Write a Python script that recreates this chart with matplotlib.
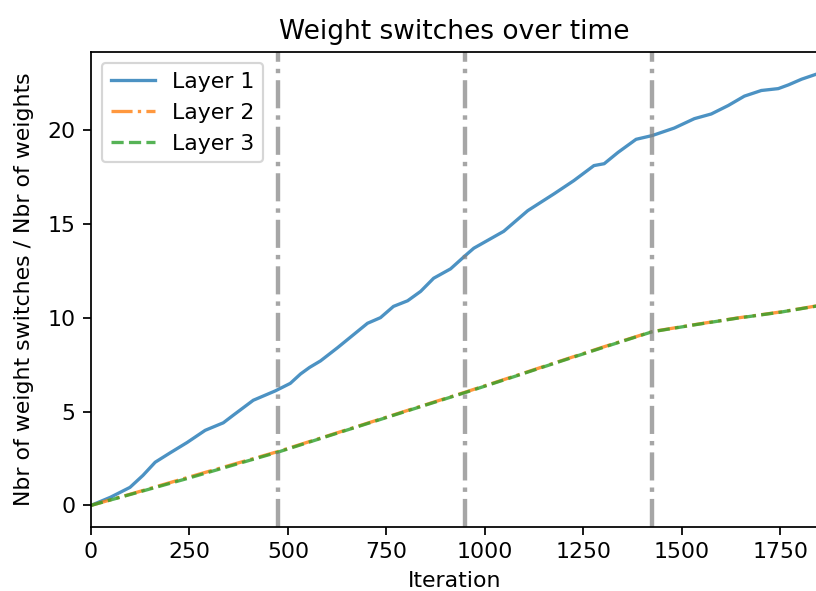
import numpy as np
import matplotlib
matplotlib.use("Agg")
import matplotlib.pyplot as plt

# Cumulative weight switches (normalised by number of weights) per layer
iters_l1 = [0, 49, 99, 132, 163, 201, 244, 290, 336, 361, 412, 468, 506, 532,
            555, 583, 626, 702, 735, 768, 804, 837, 870, 913, 950, 972, 1048,
            1109, 1176, 1226, 1277, 1303, 1338, 1384, 1425, 1481, 1532, 1575,
            1618, 1659, 1702, 1745, 1771, 1804, 1846]
layer1 = [0.0, 0.43, 0.96, 1.6, 2.3, 2.8, 3.35, 4.0, 4.4, 4.8, 5.6, 6.1, 6.5,
          7.0, 7.35, 7.7, 8.4, 9.7, 10.0, 10.6, 10.9, 11.4, 12.1, 12.6, 13.3,
          13.7, 14.6, 15.7, 16.6, 17.3, 18.1, 18.2, 18.8, 19.5, 19.7, 20.1,
          20.6, 20.85, 21.3, 21.8, 22.1, 22.2, 22.4, 22.7, 23.0]

iters_l23 = [0, 120, 244, 360, 475, 600, 720, 840, 950, 1070, 1190, 1310,
             1425, 1530, 1640, 1750, 1846]
layer2 = [0.0, 0.72, 1.48, 2.18, 2.87, 3.70, 4.50, 5.30, 6.03, 6.85, 7.68,
          8.50, 9.26, 9.62, 9.98, 10.30, 10.64]
layer3 = [0.0, 0.70, 1.43, 2.14, 2.84, 3.68, 4.48, 5.28, 6.01, 6.83, 7.66,
          8.48, 9.25, 9.61, 9.97, 10.29, 10.63]

# End of each training epoch
epoch_ends = [475, 950, 1425]

dpi = 158
fig = plt.figure(figsize=(816 / dpi, 591 / dpi), dpi=dpi)
ax = fig.add_axes([0.1115, 0.1083, 0.891, 0.8037])

ax.plot(iters_l1, layer1, '-', color='tab:blue', alpha=0.8, label='Layer 1')
ax.plot(iters_l23, layer2, '-.', color='tab:orange', alpha=0.8, label='Layer 2')
ax.plot(iters_l23, layer3, '--', color='tab:green', alpha=0.8, label='Layer 3')

for e in epoch_ends:
    ax.axvline(e, color='grey', linestyle='-.', linewidth=2, alpha=0.7)

ax.set_xlim(0, iters_l1[-1])
ax.set_title('Weight switches over time')
ax.set_xlabel('Iteration')
ax.set_ylabel('Nbr of weight switches / Nbr of weights', labelpad=6)
ax.legend(loc='upper left')

fig.savefig('out.png', dpi=dpi)
